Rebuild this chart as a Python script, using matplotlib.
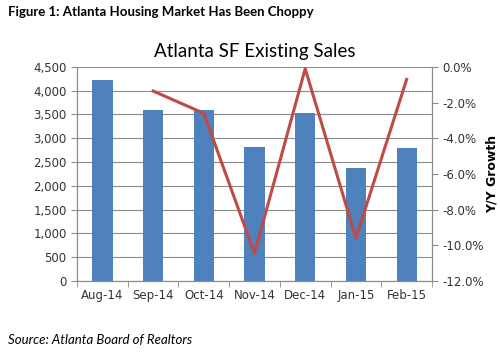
import matplotlib.pyplot as plt
from matplotlib.ticker import FuncFormatter
import numpy as np

months = ['Aug-14', 'Sep-14', 'Oct-14', 'Nov-14', 'Dec-14', 'Jan-15', 'Feb-15']
sales = [4230, 3595, 3605, 2825, 3525, 2375, 2805]
growth_months = ['Sep-14', 'Oct-14', 'Nov-14', 'Dec-14', 'Jan-15', 'Feb-15']
growth = [-1.35, -2.6, -10.45, -0.1, -9.6, -0.7]

fig = plt.figure(figsize=(5, 3.54), dpi=100)
ax = fig.add_axes([0.154, 0.206, 0.71, 0.605])
ax2 = ax.twinx()
ax.set_zorder(ax2.get_zorder() - 1)
ax2.patch.set_visible(False)

x = np.arange(len(months))
ax.bar(x, sales, width=0.4, color='#4F81BD', zorder=3)
ax.set_xlim(-0.5, len(months) - 0.5)
ax.set_ylim(0, 4500)
ax.set_yticks(np.arange(0, 4501, 500))
ax.yaxis.set_major_formatter(FuncFormatter(lambda v, p: f'{int(v):,}'))
ax.grid(axis='y', color='#8c8c8c', linewidth=0.8, zorder=0)
ax.set_xticks(x)
ax.set_xticklabels(months)
ax.set_xticks(np.arange(-0.5, len(months)), minor=True)
ax.tick_params(axis='x', which='major', length=0, pad=6)
ax.tick_params(axis='x', which='minor', length=4, color='#8c8c8c')
ax.tick_params(axis='y', length=4, color='#8c8c8c')

gx = [months.index(m) for m in growth_months]
ax2.plot(gx, growth, color='#BE4B48', linewidth=2.2)
ax2.set_ylim(-12, 0)
ax2.set_yticks(np.arange(-12, 0.1, 2))
ax2.yaxis.set_major_formatter(FuncFormatter(lambda v, p: f'{v:.1f}%'))
ax2.tick_params(axis='y', length=4, color='#8c8c8c')
ax2.set_ylabel('Y/Y Growth', fontweight='bold', fontsize=9)
ax2.yaxis.set_label_coords(1.15, 0.5)

for a in (ax, ax2):
    a.spines['top'].set_visible(False)
    for s in ('left', 'right', 'bottom'):
        a.spines[s].set_color('#8c8c8c')
    a.tick_params(labelsize=8.5, labelcolor='#333333')

fig.text(0.51, 0.855, 'Atlanta SF Existing Sales', ha='center', va='center',
         fontsize=13.5, family='Lato')
fig.text(0.015, 0.965, 'Figure 1: Atlanta Housing Market Has Been Choppy', ha='left',
         va='center', fontsize=9.5, fontweight='bold', family='Lato')
fig.text(0.015, 0.04, 'Source: Atlanta Board of Realtors', ha='left', va='center',
         fontsize=9.5, style='italic', family='Lato')

fig.savefig('out.png', dpi=100)
